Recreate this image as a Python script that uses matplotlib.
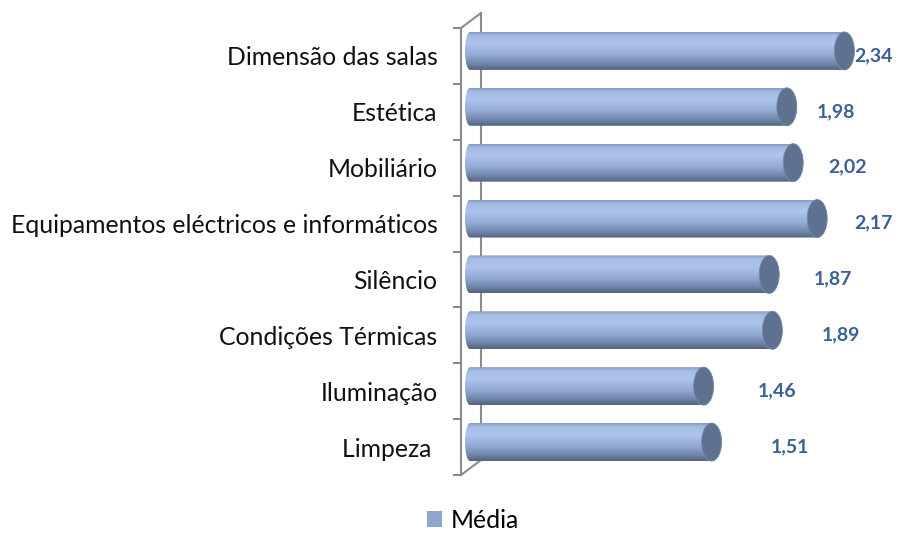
import numpy as np
import matplotlib
matplotlib.use('Agg')
import matplotlib.pyplot as plt
from matplotlib.path import Path
from matplotlib.patches import PathPatch, Ellipse
from matplotlib.colors import LinearSegmentedColormap
from matplotlib.lines import Line2D

# data
categories = ['Dimensão das salas', 'Estética', 'Mobiliário',
              'Equipamentos eléctricos e informáticos', 'Silêncio',
              'Condições Térmicas', 'Iluminação', 'Limpeza ']
values = [2.34, 1.98, 2.02, 2.17, 1.87, 1.89, 1.46, 1.51]
series_name = 'Média'

plt.rcParams['font.family'] = ['Lato', 'DejaVu Sans']

W, H = 899, 535
fig = plt.figure(figsize=(W / 100, H / 100), dpi=100)

# axes placed in pixels: front wall x=461, y from 28 to 475
ax_l, ax_r, ax_t, ax_b = 461, 899, 28, 475
ax = fig.add_axes([ax_l / W, 1 - ax_b / H, (ax_r - ax_l) / W, (ax_b - ax_t) / H])

px = 160.0                     # pixels per unit of value
x0_px = 470                    # where 0 sits
ax.set_xlim(-(x0_px - ax_l) / px, (ax_r - x0_px) / px)
ax.set_ylim(len(categories) - 0.5, -0.5)

grad = LinearSegmentedColormap.from_list('cyl', [
    (0.00, '#8097bd'), (0.08, '#a3bbe3'), (0.30, '#adc5ec'),
    (0.60, '#93abd5'), (0.85, '#6e83a8'), (1.00, '#53627e')])
cap_col = '#5f7191'

bar_h = 0.68
shift = -0.09                  # bars sit a bit back (3D depth)
rx_cap = 10 / px               # half width of cap ellipse
rx_left = 5 / px

for i, v in enumerate(values):
    yc = i + shift
    yt, yb = yc - bar_h / 2, yc + bar_h / 2
    t = np.linspace(-np.pi / 2, np.pi / 2, 40)
    # right front half of cap, going from bottom to top
    right = np.column_stack([v + rx_cap * np.cos(t), yc - (bar_h / 2) * np.sin(t)])
    left = np.column_stack([0 - rx_left * np.cos(t), yc + (bar_h / 2) * np.sin(t)])
    verts = np.vstack([right, left, right[:1]])
    path = Path(verts, closed=True)
    patch = PathPatch(path, facecolor='none', edgecolor='none', zorder=3)
    ax.add_patch(patch)
    g = np.linspace(0, 1, 256).reshape(-1, 1)
    im = ax.imshow(g, cmap=grad, aspect='auto', interpolation='bicubic',
                   extent=(-rx_left, v + rx_cap, yb, yt), zorder=3)
    im.set_clip_path(patch)
    ax.add_patch(Ellipse((v, yc), 2 * rx_cap, bar_h, facecolor=cap_col,
                         edgecolor='#7a8bab', lw=0.6, zorder=4))
    # value label, pushed right more for lower rows (perspective)
    lx = min(v + 0.28 + 0.03 * i, 2.52)
    ax.text(lx, yc + 0.08, f'{v:.2f}'.replace('.', ','), ha='center', va='center',
            fontsize=14, fontweight='bold', color='#3a6096', zorder=5)

ax.set_xticks([])
ax.set_yticks(range(len(categories)))
ax.set_yticklabels(categories, fontsize=17.8, color='#111111')
ax.set_yticks(np.arange(-0.5, len(categories)), minor=True)
ax.tick_params(axis='y', which='major', length=0, pad=17)
ax.tick_params(axis='y', which='minor', length=6, color='#8c8c8c', width=1.5)
for s in ['top', 'right', 'bottom']:
    ax.spines[s].set_visible(False)
ax.spines['left'].set_color('#8c8c8c')
ax.spines['left'].set_linewidth(1.5)
ax.set_facecolor('none')

# 3D wall lines
aw = ax_r - ax_l
ah = ax_b - ax_t
dx, dy = 20 / aw, 15 / ah
wall = dict(color='#8c8c8c', lw=1.5, transform=ax.transAxes, clip_on=False, zorder=1)
ax.add_line(Line2D([dx, dx], [dy, 1 + dy], **wall))
ax.add_line(Line2D([0, dx], [1, 1 + dy], **wall))
ax.add_line(Line2D([0, dx], [0, dy], **wall))

handle = plt.Rectangle((0, 0), 1, 1, facecolor='#8ea5cf', edgecolor='none')
fig.legend([handle], [series_name], loc='center', bbox_to_anchor=(473 / W, 1 - 520 / H),
           frameon=False, fontsize=17.8, handlelength=0.6, handleheight=0.6,
           handletextpad=0.36, borderpad=0)

fig.savefig('out.png', dpi=100)
